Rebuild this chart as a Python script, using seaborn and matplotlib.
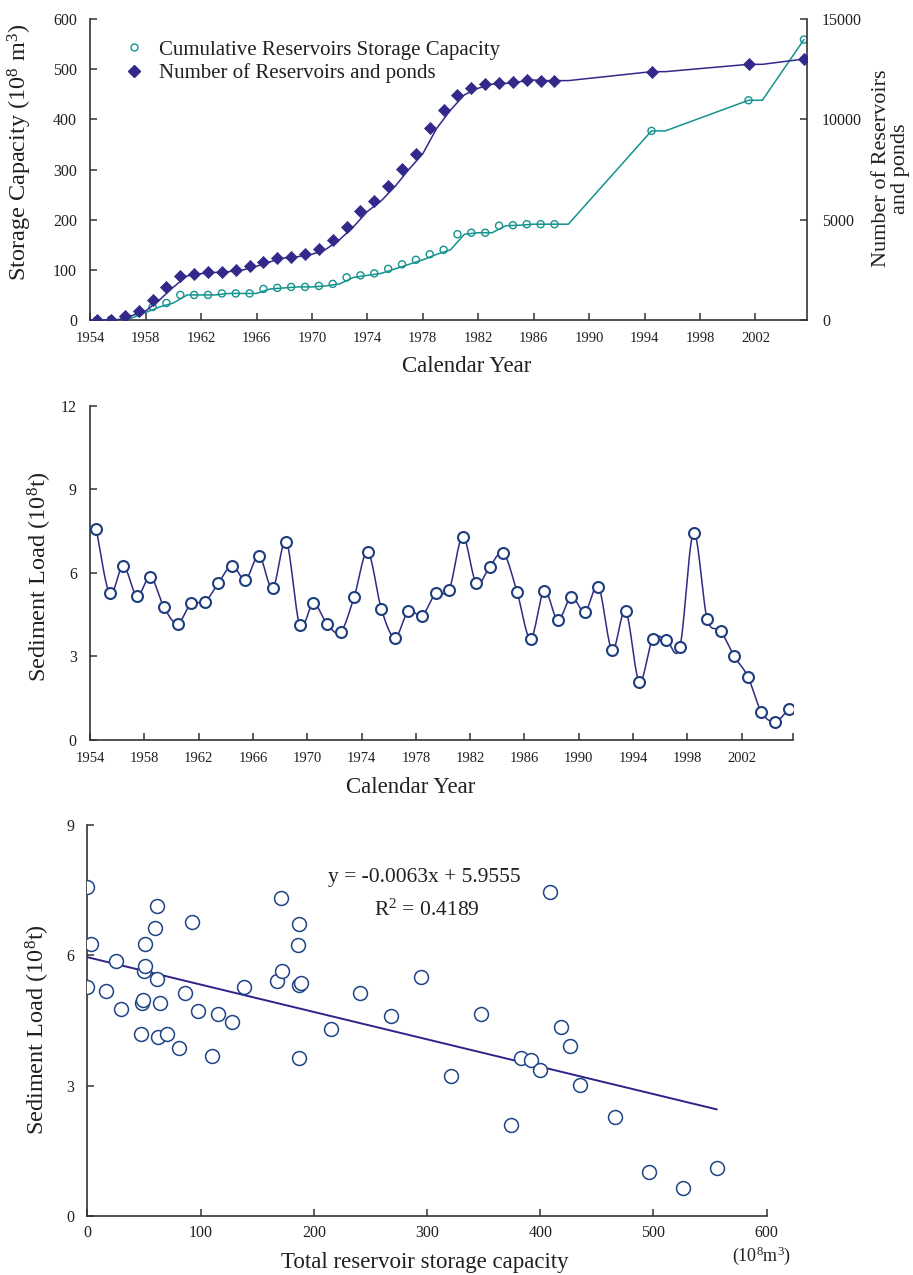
import numpy as np
import pandas as pd
import matplotlib
matplotlib.use("Agg")
import matplotlib.pyplot as plt
from matplotlib.lines import Line2D
import seaborn as sns

# ---------------- data ----------------
# Panel 1: reservoirs
res_years = list(range(1954, 1988)) + [1994, 2001, 2005]
storage_capacity = [0, 1, 4, 15, 26, 34, 50, 50, 50, 53, 53, 53, 62, 64, 66, 66, 68, 72,
                    85, 89, 93, 102, 111, 120, 131, 140, 171, 174, 174, 188, 189, 191, 191,
                    191, 377, 438, 559]
reservoir_count = [0, 0, 220, 450, 1000, 1640, 2200, 2310, 2370, 2410, 2490, 2680, 2907,
                   3090, 3160, 3272, 3521, 4010, 4651, 5410, 5940, 6660, 7508, 8290, 9550,
                   10465, 11220, 11550, 11750, 11793, 11876, 11960, 11930, 11930, 12376,
                   12741, 13006]
# trend line vertices for the sparse years
trend_sparse_years = [1988, 1994, 1995, 2001, 2002, 2005]
trend_sparse_capacity = [191, 377, 377, 438, 438, 559]
trend_sparse_count = [11930, 12376, 12376, 12741, 12741, 13006]

# Panel 2: sediment load
sed_years = list(range(1954, 2006))
sediment_load = [7.58, 5.27, 6.26, 5.17, 5.86, 4.77, 4.18, 4.91, 4.96, 5.63, 6.26, 5.76,
                 6.62, 5.45, 7.13, 4.13, 4.91, 4.18, 3.87, 5.13, 6.76, 4.72, 3.68, 4.64,
                 4.46, 5.27, 5.40, 7.31, 5.63, 6.23, 6.72, 5.32, 3.64, 5.37, 4.31, 5.14,
                 4.60, 5.50, 3.23, 4.64, 2.10, 3.64, 3.59, 3.35, 7.45, 4.36, 3.92, 3.01,
                 2.28, 1.01, 0.65, 1.10]

# Panel 3: annual total storage capacity matched with sediment load
annual_capacity = [0, 0, 3, 16, 25, 30, 47, 48, 49, 50, 51, 51, 60, 61, 61, 62, 64, 70,
                   81, 86, 92, 98, 110, 115, 128, 138, 167, 171, 172, 186, 187, 187, 187,
                   189, 215, 241, 268, 295, 321, 348, 374, 383, 392, 400, 409, 418, 426,
                   435, 466, 496, 526, 556]
fit_slope = -0.0063
fit_intercept = 5.9555
fit_r2 = 0.4189

x_ticks_years = list(range(1954, 2003, 4))

# ---------------- style ----------------
sns.set_theme(style="ticks")
plt.rcParams["font.family"] = ["Liberation Serif", "DejaVu Serif"]
plt.rcParams["mathtext.fontset"] = "custom"
plt.rcParams["mathtext.rm"] = "Liberation Serif"
plt.rcParams["mathtext.it"] = "Liberation Serif:italic"
plt.rcParams["mathtext.default"] = "regular"
TXT = "#231f20"
SP = "#333333"
plt.rcParams["text.color"] = TXT
plt.rcParams["axes.labelcolor"] = TXT
plt.rcParams["xtick.color"] = SP
plt.rcParams["ytick.color"] = SP
plt.rcParams["xtick.labelcolor"] = TXT
plt.rcParams["ytick.labelcolor"] = TXT

TEAL = "#14938e"
NAVY = "#33298a"
LINE2 = "#2e2b83"
EDGE2 = "#1d3d7c"
EDGE3 = "#1f4485"
REG = "#2e2388"

MOFF = 0.5  # markers sit half a year right of the tick labels


def style_axes(ax, sides):
    for s in ["top", "right", "left", "bottom"]:
        ax.spines[s].set_visible(s in sides)
        ax.spines[s].set_color(SP)
        ax.spines[s].set_linewidth(1.2)
    ax.tick_params(direction="in", length=5, width=1.1)
    ax.tick_params(axis="x", pad=8.5)
    ax.tick_params(axis="y", pad=9.5)


def catmull_rom(x, y, n=16):
    P = np.column_stack([np.asarray(x, float), np.asarray(y, float)])
    P = np.vstack([P[0] - (P[1] - P[0]), P, P[-1] + (P[-1] - P[-2])])
    t = np.linspace(0, 1, n, endpoint=False)[:, None]
    out = []
    for i in range(1, len(P) - 2):
        p0, p1, p2, p3 = P[i - 1], P[i], P[i + 1], P[i + 2]
        seg = 0.5 * (2 * p1 + (-p0 + p2) * t + (2 * p0 - 5 * p1 + 4 * p2 - p3) * t ** 2
                     + (-p0 + 3 * p1 - 3 * p2 + p3) * t ** 3)
        out.append(seg)
    out.append(P[-2][None, :])
    return np.vstack(out)


fig = plt.figure(figsize=(9.13, 12.75), dpi=100)

# ================= Panel 1 =================
ax1 = fig.add_axes([0.0988, 0.7490, 0.7848, 0.2361])
ax1r = ax1.twinx()
style_axes(ax1, ["left", "bottom"])
style_axes(ax1r, ["right"])
ax1.spines["right"].set_visible(False)

df1 = pd.DataFrame({"year": res_years, "cap": storage_capacity, "num": reservoir_count})
df1["xm"] = df1["year"] + MOFF
dense = df1[df1["year"] <= 1987]
# trend lines: dense years lag the markers by half a year, sparse years from picture
tl_x = list(dense["xm"] + 0.5) + [y + MOFF for y in trend_sparse_years]
tl_cap = list(dense["cap"]) + trend_sparse_capacity
tl_num = list(dense["num"]) + trend_sparse_count
tl = pd.DataFrame({"x": tl_x, "cap": tl_cap, "num": tl_num})

sns.lineplot(data=tl, x="x", y="cap", ax=ax1, color=TEAL, lw=1.1, sort=False,
             estimator=None)
sns.scatterplot(data=df1, x="xm", y="cap", ax=ax1, marker="o", s=26,
                facecolors="none", edgecolors=TEAL, linewidth=1.0, zorder=3)
sns.lineplot(data=tl, x="x", y="num", ax=ax1r, color=NAVY, lw=1.1, sort=False,
             estimator=None)
sns.scatterplot(data=df1, x="xm", y="num", ax=ax1r, marker="D", s=38,
                color=NAVY, edgecolor=NAVY, linewidth=0.5, zorder=3)

ax1.set_xlim(1954, 2005.7)
ax1.set_ylim(0, 600)
ax1r.set_ylim(0, 15000)
ax1.set_xticks(x_ticks_years)
ax1.set_xticklabels([str(v) for v in x_ticks_years], fontsize=10.5)
ax1.set_yticks(range(0, 601, 100))
ax1.tick_params(axis="y", labelsize=11.5)
ax1r.set_yticks([0, 5000, 10000, 15000])
ax1r.tick_params(axis="y", labelsize=11.5, pad=11)
ax1.set_xlabel("Calendar Year", fontsize=16.5)
ax1.xaxis.set_label_coords(0.526, -0.156)
ax1.xaxis.label.set_va("center")
ax1.set_ylabel("Storage Capacity (10$^{8}$ m$^{3}$)", fontsize=17.5)
ax1.yaxis.set_label_coords(-0.098, 0.558)
ax1.yaxis.label.set_va("center")
ax1r.set_ylabel("Number of Reservoirs\nand ponds", fontsize=16, linespacing=1.0,
                multialignment="center", rotation=90)
ax1r.yaxis.set_label_coords(1.118, 0.503)
ax1r.yaxis.label.set_va("center")

handles = [Line2D([], [], ls="none", marker="o", mfc="none", mec=TEAL, ms=5, mew=1.0),
           Line2D([], [], ls="none", marker="D", mfc=NAVY, mec=NAVY, ms=6.2)]
ax1r.legend(handles, ["Cumulative Reservoirs Storage Capacity",
                      "Number of Reservoirs and ponds"],
            loc="upper left", bbox_to_anchor=(0.047, 0.93), frameon=False,
            fontsize=15, handlelength=1.0, handletextpad=0.7, labelspacing=0.17,
            borderpad=0, borderaxespad=0)

# ================= Panel 2 =================
ax2 = fig.add_axes([0.0986, 0.4196, 0.7703, 0.2620])
style_axes(ax2, ["left", "bottom"])
df2 = pd.DataFrame({"year": sed_years, "load": sediment_load})
df2["xm"] = df2["year"] + 0.45
curve = catmull_rom(df2["xm"], df2["load"])
cdf = pd.DataFrame({"x": curve[:, 0], "y": curve[:, 1]})
sns.lineplot(data=cdf, x="x", y="y", ax=ax2, color=LINE2, lw=1.1, sort=False,
             estimator=None)
sns.scatterplot(data=df2, x="xm", y="load", ax=ax2, marker="o", s=62,
                facecolor="white", edgecolor=EDGE2, linewidth=1.5, zorder=3)
ax2.set_xlim(1954, 2005.8)
ax2.set_ylim(0, 12)
ax2.set_xticks(x_ticks_years + [2005.8])
ax2.set_xticklabels([str(v) for v in x_ticks_years] + [""], fontsize=10.5)
ax2.set_yticks([0, 3, 6, 9, 12])
ax2.tick_params(axis="y", labelsize=11.5)
ax2.set_xlabel("Calendar Year", fontsize=16.5)
ax2.xaxis.set_label_coords(0.456, -0.141)
ax2.xaxis.label.set_va("center")
ax2.set_ylabel("Sediment Load (10$^{8}$t)", fontsize=17.5)
ax2.yaxis.set_label_coords(-0.071, 0.488)
ax2.yaxis.label.set_va("center")

# ================= Panel 3 =================
ax3 = fig.add_axes([0.0958, 0.0463, 0.7439, 0.3067])
style_axes(ax3, ["left", "bottom"])
df3 = pd.DataFrame({"cap": annual_capacity, "load": sediment_load})
fx = np.array([min(annual_capacity), max(annual_capacity)], float)
fit = pd.DataFrame({"x": fx, "y": fit_slope * fx + fit_intercept})
sns.lineplot(data=fit, x="x", y="y", ax=ax3, color=REG, lw=1.4, sort=False,
             estimator=None)
sns.scatterplot(data=df3, x="cap", y="load", ax=ax3, marker="o", s=100,
                facecolor="white", edgecolor=EDGE3, linewidth=1.1, zorder=3)
ax3.set_xlim(0, 600)
ax3.set_ylim(0, 9)
ax3.set_xticks(range(0, 601, 100))
ax3.set_yticks([0, 3, 6, 9])
ax3.tick_params(labelsize=11.5)
ax3.tick_params(axis="x", pad=6.5)
ax3.set_xlabel("Total reservoir storage capacity", fontsize=16.5)
ax3.xaxis.set_label_coords(0.497, -0.118)
ax3.xaxis.label.set_va("center")
ax3.set_ylabel("Sediment Load (10$^{8}$t)", fontsize=17.5)
ax3.yaxis.set_label_coords(-0.073, 0.476)
ax3.yaxis.label.set_va("center")
ax3.text(0.993, -0.101, "(10$^{8}$m$^{3}$)", transform=ax3.transAxes, fontsize=13,
         ha="center", va="center")
ax3.text(298, 7.8, f"y = {fit_slope:.4f}x + {fit_intercept:.4f}", fontsize=15.5,
         ha="center", va="center")
ax3.text(300, 7.04, f"R$^{{2}}$ = {fit_r2:.4f}", fontsize=15.5, ha="center", va="center")

fig.savefig("out.png", dpi=100)
